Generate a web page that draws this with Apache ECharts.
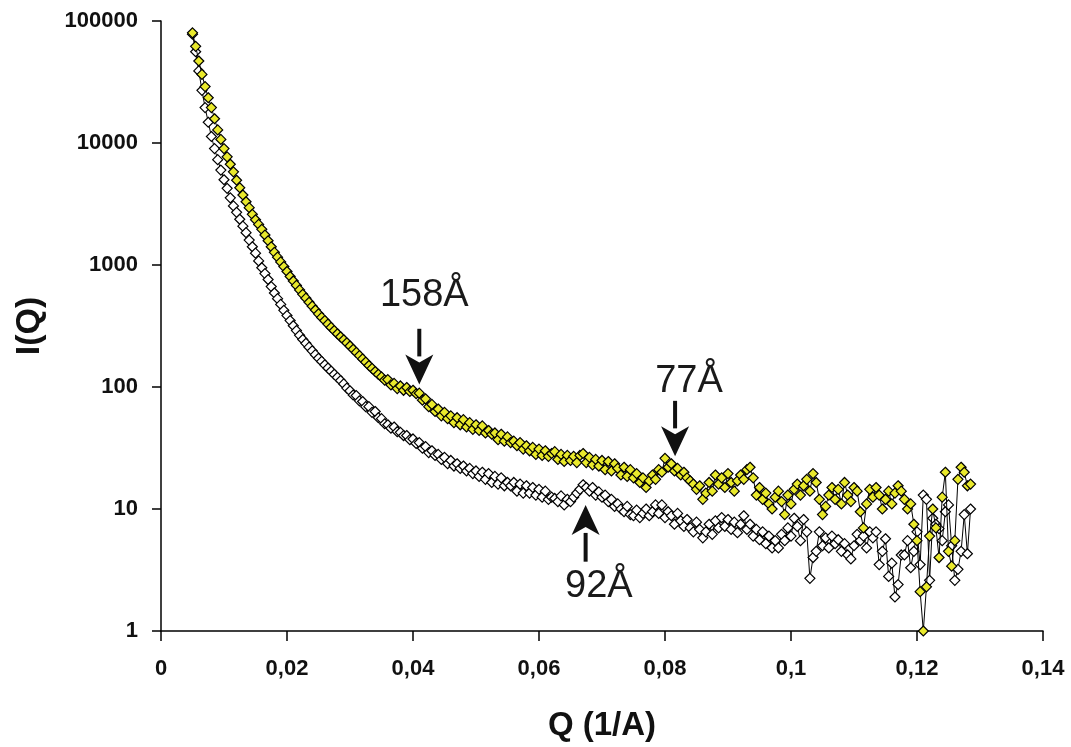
<!DOCTYPE html>
<html>
<head>
<meta charset="utf-8">
<script src="https://cdn.jsdelivr.net/npm/echarts@6/dist/echarts.min.js"></script>
<style>
  html, body { margin: 0; padding: 0; background: #ffffff; }
  #chart { width: 1071px; height: 747px; }
</style>
</head>
<body>
<div id="chart"></div>
<script>
// Scattering vector Q (1/A), one row per 0.005
const qValues = [
  0.0050, 0.0055, 0.0060, 0.0065, 0.0070, 0.0075, 0.0080, 0.0085, 0.0090, 0.0095,
  0.0100, 0.0105, 0.0110, 0.0115, 0.0120, 0.0125, 0.0130, 0.0135, 0.0140, 0.0145,
  0.0150, 0.0155, 0.0160, 0.0165, 0.0170, 0.0175, 0.0180, 0.0185, 0.0190, 0.0195,
  0.0200, 0.0205, 0.0210, 0.0215, 0.0220, 0.0225, 0.0230, 0.0235, 0.0240, 0.0245,
  0.0250, 0.0255, 0.0260, 0.0265, 0.0270, 0.0275, 0.0280, 0.0285, 0.0290, 0.0295,
  0.0300, 0.0305, 0.0310, 0.0315, 0.0320, 0.0325, 0.0330, 0.0335, 0.0340, 0.0345,
  0.0350, 0.0355, 0.0360, 0.0365, 0.0370, 0.0375, 0.0380, 0.0385, 0.0390, 0.0395,
  0.0400, 0.0405, 0.0410, 0.0415, 0.0420, 0.0425, 0.0430, 0.0435, 0.0440, 0.0445,
  0.0450, 0.0455, 0.0460, 0.0465, 0.0470, 0.0475, 0.0480, 0.0485, 0.0490, 0.0495,
  0.0500, 0.0505, 0.0510, 0.0515, 0.0520, 0.0525, 0.0530, 0.0535, 0.0540, 0.0545,
  0.0550, 0.0555, 0.0560, 0.0565, 0.0570, 0.0575, 0.0580, 0.0585, 0.0590, 0.0595,
  0.0600, 0.0605, 0.0610, 0.0615, 0.0620, 0.0625, 0.0630, 0.0635, 0.0640, 0.0645,
  0.0650, 0.0655, 0.0660, 0.0665, 0.0670, 0.0675, 0.0680, 0.0685, 0.0690, 0.0695,
  0.0700, 0.0705, 0.0710, 0.0715, 0.0720, 0.0725, 0.0730, 0.0735, 0.0740, 0.0745,
  0.0750, 0.0755, 0.0760, 0.0765, 0.0770, 0.0775, 0.0780, 0.0785, 0.0790, 0.0795,
  0.0800, 0.0805, 0.0810, 0.0815, 0.0820, 0.0825, 0.0830, 0.0835, 0.0840, 0.0845,
  0.0850, 0.0855, 0.0860, 0.0865, 0.0870, 0.0875, 0.0880, 0.0885, 0.0890, 0.0895,
  0.0900, 0.0905, 0.0910, 0.0915, 0.0920, 0.0925, 0.0930, 0.0935, 0.0940, 0.0945,
  0.0950, 0.0955, 0.0960, 0.0965, 0.0970, 0.0975, 0.0980, 0.0985, 0.0990, 0.0995,
  0.1000, 0.1005, 0.1010, 0.1015, 0.1020, 0.1025, 0.1030, 0.1035, 0.1040, 0.1045,
  0.1050, 0.1055, 0.1060, 0.1065, 0.1070, 0.1075, 0.1080, 0.1085, 0.1090, 0.1095,
  0.1100, 0.1105, 0.1110, 0.1115, 0.1120, 0.1125, 0.1130, 0.1135, 0.1140, 0.1145,
  0.1150, 0.1155, 0.1160, 0.1165, 0.1170, 0.1175, 0.1180, 0.1185, 0.1190, 0.1195,
  0.1200, 0.1205, 0.1210, 0.1215, 0.1220, 0.1225, 0.1230, 0.1235, 0.1240, 0.1245,
  0.1250, 0.1255, 0.1260, 0.1265, 0.1270, 0.1275, 0.1280, 0.1285
];

// I(Q), yellow-marker sample
const intensityYellow = [
  80000, 62000, 47000, 36500, 29000, 23500, 19500, 15800, 12800, 10700,
  9000, 7700, 6700, 5800, 4950, 4300, 3750, 3300, 2950, 2600,
  2350, 2150, 1960, 1760, 1580, 1410, 1270, 1160, 1060, 970,
  885, 805, 740, 680, 625, 575, 535, 495, 460, 428,
  398, 372, 350, 328, 308, 290, 273, 258, 244, 230,
  217, 204, 192, 181, 170, 160, 150, 142, 134, 127,
  121, 114, 115, 104, 107, 97, 102, 94, 99, 92,
  94, 88, 89, 78, 80, 69, 72, 63, 66, 58,
  62, 55, 58, 51, 56, 49, 54, 47, 51, 45,
  49, 44, 48, 42, 44, 41, 42, 37, 41, 36,
  39, 35, 36, 33, 35, 31, 33, 30, 32, 28,
  31, 27.5, 30, 27, 28.5, 29.5, 25.5, 28, 24.5, 27.5,
  25, 27, 24, 27.5, 28.5, 24, 26.5, 23, 25.5, 22.5,
  25, 21, 24.5, 20.5, 23.5, 21.5, 19, 22, 18.5, 21,
  18, 19.5, 16.5, 18, 15, 17, 19, 17.5, 21, 20,
  26, 22, 23.5, 20.5, 21.5, 19, 20, 18, 17, 16,
  14.5, 15.5, 12, 13.5, 16.5, 14, 19, 16, 18, 15,
  19.5, 16.5, 14, 17, 19, 17.5, 21, 22, 18, 13,
  15, 12, 13.5, 11, 10, 12.5, 14, 11.5, 9, 13,
  11, 14.5, 16, 13, 15.5, 17.5, 14, 19.5, 16.5, 12,
  9, 10.5, 13, 15, 12, 14.5, 11, 16.5, 13, 11.5,
  15, 14, 9.5, 7, 11, 14.5, 12.5, 15, 13, 10,
  12, 14, 11, 13.5, 15.5, 14, 12, 10, 11, 7.5,
  5.5, 2.1, 1.0, 2.3, 6, 10, 7, 4, 12.5, 20,
  4.5, 3.4, 5.5, 17.5, 22, 20, 15.5, 16
];

// I(Q), open-marker sample
const intensityWhite = [
  78000, 56000, 39000, 27000, 19500, 14800, 11300, 9000, 7300, 6000,
  5000, 4250, 3550, 3050, 2700, 2370, 2080, 1840, 1600, 1410,
  1250, 1080, 950, 850, 760, 665, 590, 530, 475, 425,
  385, 350, 318, 290, 265, 245, 228, 212, 198, 184,
  172, 162, 152, 143, 135, 127, 120, 113, 106, 98,
  93, 86, 85, 77, 76, 69, 69, 62, 63, 56,
  55, 50, 49, 46, 47, 43, 42.5, 40, 40, 37,
  37.5, 34.5, 35, 31.5, 32.5, 29, 30, 27.5, 28, 25.5,
  26.5, 23.5, 25, 22.5, 23.5, 21.5, 22.5, 20.5, 21.5, 19.5,
  20.5, 18.5, 20, 17.5, 19.5, 16.5, 18.5, 16, 18, 15.5,
  16.5, 15.5, 16.5, 14, 16, 13.5, 15.5, 13.5, 15, 13,
  14.5, 12.5, 14, 12, 12.5, 12.2, 11.5, 12.8, 10.8, 12,
  11.5, 12.5, 13.5, 14.5, 15.8, 15, 14, 15, 13, 13.8,
  12.5, 13, 11.5, 12, 10.5, 11, 10, 9.5, 10.5, 9,
  8.8, 9.8, 8.5, 9.2, 10, 8.8, 9.5, 10.8, 9.2, 10.8,
  8.5, 9.5, 8.8, 7.5, 9.2, 8, 7.2, 8.2, 7, 6.5,
  7.8, 6.8, 5.8, 6.5, 7.5, 6.2, 8, 7, 8.5, 7.2,
  8.2, 6.8, 7.8, 6.4, 7.5, 8.8, 6.8, 7.5, 6, 6.8,
  5.6, 6.5, 5.2, 6, 4.8, 5.5, 4.8, 6.2, 5.5, 7,
  6, 8.4, 7.2, 5.5, 8.2, 6.5, 2.7, 4, 4.5, 6.5,
  5, 5.8, 4.8, 6, 5.2, 5.6, 4.5, 5.2, 4.2, 3.9,
  5, 6.2, 5.5, 6, 4.8, 6.5, 5.8, 6.5, 3.5, 4.5,
  5.7, 2.8, 3.6, 1.9, 2.4, 4.2, 4.2, 5.5, 3.3, 4.5,
  6.5, 3.5, 13, 12, 2.6, 8.4, 7.5, 6.9, 5.5, 9.5,
  10.8, 5, 2.6, 3.2, 4.5, 9, 4.3, 10
];

const xTickLabels = ['0', '0,02', '0,04', '0,06', '0,08', '0,1', '0,12', '0,14'];
const yTickLabels = ['1', '10', '100', '1000', '10000', '100000'];

// Peak annotations: label, arrow (Q, tail I -> tip I), label anchor (Q, I)
const peakLabels = ['158Å', '77Å', '92Å'];
const peakArrowQ = [0.0410, 0.0816, 0.0674];
const peakArrowFromI = [300, 77, 3.7];
const peakArrowToI = [105, 27, 10.8];
const peakLabelQ = [0.0418, 0.0838, 0.0695];
const peakLabelI = [560, 110, 2.3];

const chart = echarts.init(document.getElementById('chart'), null, { renderer: 'canvas' });

const axisFont = '"Liberation Sans", Arial, Helvetica, sans-serif';

function pairs(ys) {
  return qValues.map((q, i) => [q, ys[i]]);
}

chart.setOption({
  animation: false,
  backgroundColor: '#ffffff',
  grid: { left: 161, right: 28, top: 21, bottom: 114 },
  xAxis: {
    type: 'value',
    min: 0,
    max: 0.14,
    interval: 0.02,
    name: 'Q (1/A)',
    nameLocation: 'middle',
    nameGap: 78,
    nameTextStyle: { fontFamily: axisFont, fontWeight: 'bold', fontSize: 33, color: '#111' },
    axisLine: { show: true, onZero: false, lineStyle: { color: '#000', width: 1.5 } },
    axisTick: { show: true, inside: false, length: 10, lineStyle: { color: '#000', width: 1.5 } },
    axisLabel: {
      margin: 27,
      fontFamily: axisFont,
      fontWeight: 'bold',
      fontSize: 22,
      color: '#111',
      formatter: (v) => xTickLabels[Math.round(v / 0.02)]
    },
    splitLine: { show: false }
  },
  yAxis: {
    type: 'log',
    logBase: 10,
    min: 1,
    max: 100000,
    name: 'I(Q)',
    nameLocation: 'middle',
    nameGap: 114,
    nameRotate: 90,
    nameTextStyle: { fontFamily: axisFont, fontWeight: 'bold', fontSize: 34, color: '#111' },
    axisLine: { show: true, lineStyle: { color: '#000', width: 1.5 } },
    axisTick: { show: true, inside: false, length: 9, lineStyle: { color: '#000', width: 1.5 } },
    axisLabel: {
      margin: 23,
      fontFamily: axisFont,
      fontWeight: 'bold',
      fontSize: 22,
      color: '#111',
      formatter: (v) => yTickLabels[Math.round(Math.log10(v))]
    },
    splitLine: { show: false },
    minorTick: { show: false }
  },
  series: [
    {
      name: 'open',
      type: 'line',
      data: pairs(intensityWhite),
      symbol: 'diamond',
      symbolSize: 10,
      showAllSymbol: true,
      lineStyle: { color: '#000', width: 1 },
      itemStyle: { color: '#ffffff', borderColor: '#000', borderWidth: 1.2 },
      emphasis: { disabled: true },
      z: 2
    },
    {
      name: 'filled',
      type: 'line',
      data: pairs(intensityYellow),
      symbol: 'diamond',
      symbolSize: 10,
      showAllSymbol: true,
      lineStyle: { color: '#000', width: 1 },
      itemStyle: { color: '#e9e92c', borderColor: '#000', borderWidth: 1.2 },
      emphasis: { disabled: true },
      z: 3
    }
  ]
});

// Arrows and peak labels, placed in data coordinates
const graphics = [];
const headW = 28, headH = 30;
peakLabels.forEach((label, i) => {
  const tail = chart.convertToPixel({ gridIndex: 0 }, [peakArrowQ[i], peakArrowFromI[i]]);
  const tip = chart.convertToPixel({ gridIndex: 0 }, [peakArrowQ[i], peakArrowToI[i]]);
  const dir = tip[1] > tail[1] ? 1 : -1;
  const baseY = tip[1] - dir * headH;
  graphics.push({
    type: 'line',
    shape: { x1: tail[0], y1: tail[1], x2: tip[0], y2: baseY + dir * 2 },
    style: { stroke: '#111', lineWidth: 4 },
    z: 100
  });
  graphics.push({
    type: 'polygon',
    shape: { points: [[tip[0], tip[1]], [tip[0] - headW / 2, baseY], [tip[0], baseY + dir * 8], [tip[0] + headW / 2, baseY]] },
    style: { fill: '#111' },
    z: 100
  });
  const pos = chart.convertToPixel({ gridIndex: 0 }, [peakLabelQ[i], peakLabelI[i]]);
  graphics.push({
    type: 'text',
    x: pos[0],
    y: pos[1],
    style: {
      text: label,
      font: '38px "Liberation Sans", Arial, sans-serif',
      fill: '#1a1a1a',
      align: 'center',
      verticalAlign: 'middle'
    },
    z: 100
  });
});
chart.setOption({ graphic: graphics });
</script>
</body>
</html>
